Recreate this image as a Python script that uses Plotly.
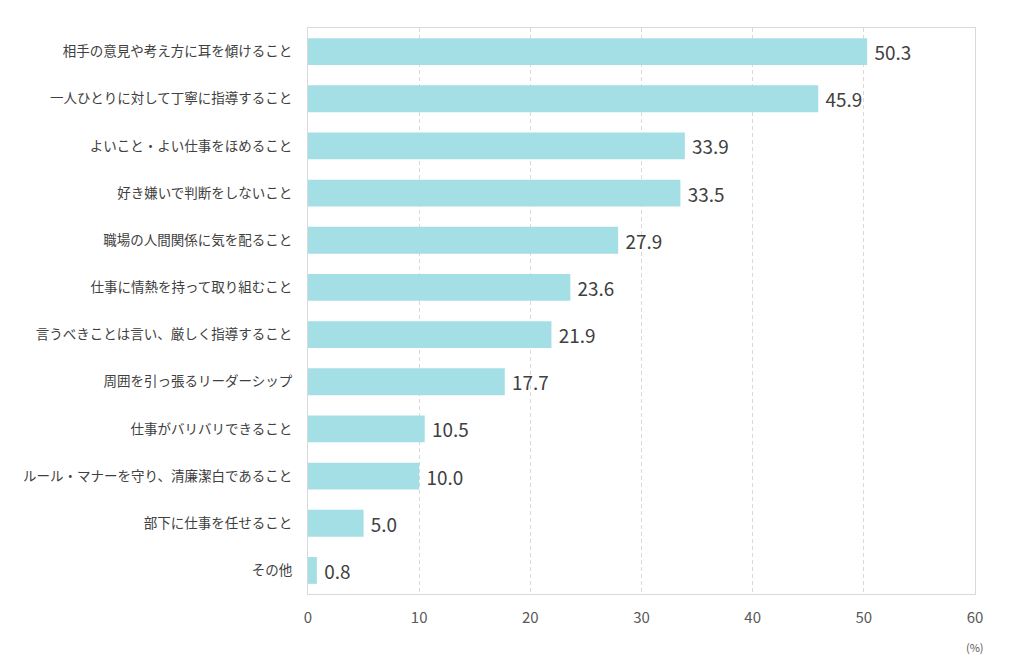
import plotly.graph_objects as go

# 上から順に
categories = [
    "相手の意見や考え方に耳を傾けること",
    "一人ひとりに対して丁寧に指導すること",
    "よいこと・よい仕事をほめること",
    "好き嫌いで判断をしないこと",
    "職場の人間関係に気を配ること",
    "仕事に情熱を持って取り組むこと",
    "言うべきことは言い、厳しく指導すること",
    "周囲を引っ張るリーダーシップ",
    "仕事がバリバリできること",
    "ルール・マナーを守り、清廉潔白であること",
    "部下に仕事を任せること",
    "その他",
]
values = [50.3, 45.9, 33.9, 33.5, 27.9, 23.6, 21.9, 17.7, 10.5, 10.0, 5.0, 0.8]
x_ticks = [0, 10, 20, 30, 40, 50, 60]

FONT = "Noto Sans CJK JP"

fig = go.Figure(go.Bar(
    x=values,
    y=categories,
    orientation="h",
    width=0.57,
    marker=dict(color="#A5DFE6", line=dict(width=0)),
    text=[f" {v:.1f}" for v in values],
    textposition="outside",
    textfont=dict(family=FONT, size=19, color="#404040"),
    cliponaxis=False,
))

# ページの body に 8px の余白が付くので、その分を差し引いておく
fig.update_layout(
    width=1024,
    height=667,
    margin=dict(l=300, r=57, t=20, b=81),
    plot_bgcolor="white",
    paper_bgcolor="white",
    showlegend=False,
    font=dict(family=FONT, color="#595959"),
)

fig.update_xaxes(
    range=[0, 60],
    tickvals=x_ticks,
    tickfont=dict(size=15, color="#595959"),
    showgrid=True,
    gridcolor="#D9D9D9",
    griddash="4px,3px",
    gridwidth=1,
    zeroline=False,
    showline=True,
    linecolor="#D9D9D9",
    mirror=True,
    ticks="",
    ticklabelstandoff=10,
)

fig.update_yaxes(
    autorange="reversed",
    automargin=False,
    tickfont=dict(size=13.5, color="#404040"),
    showline=True,
    linecolor="#D9D9D9",
    mirror=True,
    ticks="",
    ticklabelstandoff=12,
)

fig.add_annotation(
    text="(%)",
    x=60, xref="x",
    y=-0.094, yref="paper",
    yanchor="middle",
    showarrow=False,
    font=dict(family=FONT, size=11, color="#595959"),
)

fig.write_html("out.html")
